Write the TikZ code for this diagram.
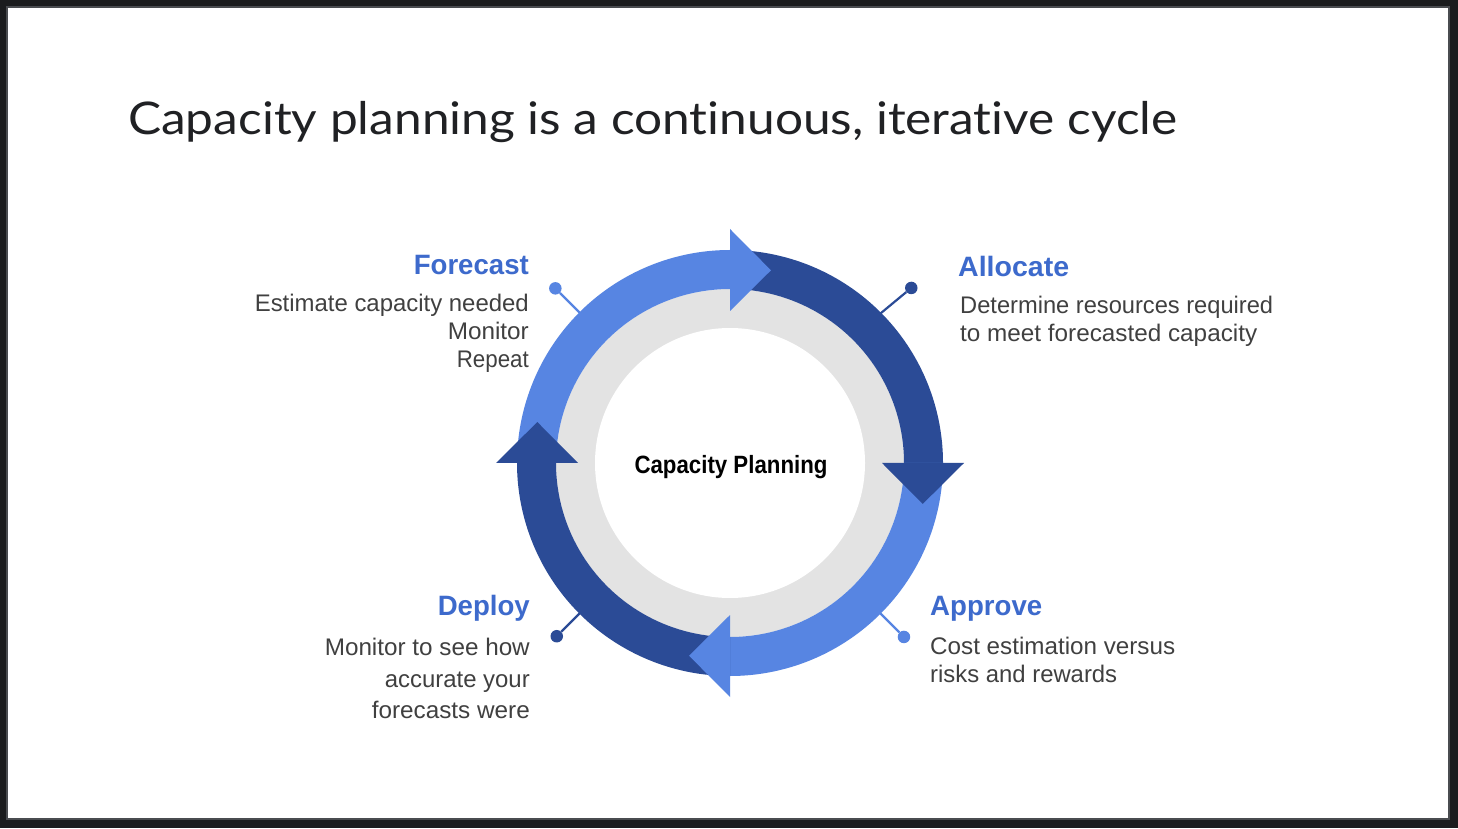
\documentclass[tikz,border=0pt]{standalone}
\usepackage{fontspec}
\setmainfont{Liberation Sans}
\newfontfamily\titlefont[Ligatures=NoCommon]{Lato}
\usepackage{graphicx}
\usetikzlibrary{calc}
\definecolor{lightb}{HTML}{5785E2}
\definecolor{darkb}{HTML}{2B4B96}
\definecolor{labb}{HTML}{3D6ACC}
\definecolor{bodyt}{HTML}{404040}
\definecolor{titlec}{HTML}{202124}
\definecolor{ringg}{HTML}{E3E3E3}
\definecolor{frameb}{HTML}{1B1C1E}
\definecolor{frameg}{HTML}{4A4C50}
\newcommand\fw[2]{\resizebox{#1pt}{\height}{#2}}
\newcommand\cycband[3]{\fill[#1] ($(C)+(#2:213pt)$) arc[start angle=#2,end angle=#3,radius=213pt] -- ($(C)+(#3:174pt)$) arc[start angle=#3,end angle=#2,radius=174pt] -- cycle;}
\newcommand\cychead[3]{\fill[#1] ($(C)+(#2:152pt)$) -- ($(C)+(#2:234pt)$) -- ($(C)+(#3:197pt)$) -- cycle;}
\begin{document}
\begin{tikzpicture}[x=1pt,y=1pt,
  lab/.style={font=\bfseries\fontsize{28}{34}\selectfont, text=labb, inner sep=0},
  body/.style={font=\fontsize{24}{29}\selectfont, text=bodyt, inner sep=0},
  dot/.style={circle, inner sep=0, minimum size=12.5pt},
  pinline/.style={line width=2.2pt}]
\useasboundingbox (0,0) rectangle (1458,828);
\fill[frameb] (0,0) rectangle (1458,828);
\fill[frameg] (6,8) rectangle (1450.3,822);
\fill[white] (8,10) rectangle (1448,820);

\node[anchor=base west, inner sep=0, text=titlec, font=\titlefont\fontsize{45}{54}\selectfont] (title) at (128,693) {\fw{1049}{Capacity planning is a continuous, iterative cycle}};

\coordinate (C) at (730,365);

% pins
\coordinate (fp) at ($(C)+(135:205pt)$);
\node[dot, fill=lightb] (fd) at ($(C)+(135:247pt)$) {};
\draw[pinline, lightb] (fp) -- (fd);
\coordinate (ap) at ($(C)+(45:205pt)$);
\node[dot, fill=darkb] (ad) at ($(C)+(44:252pt)$) {};
\draw[pinline, darkb] (ap) -- (ad);
\coordinate (pp) at ($(C)+(-45:205pt)$);
\node[dot, fill=lightb] (pd) at ($(C)+(-45:246pt)$) {};
\draw[pinline, lightb] (pp) -- (pd);
\coordinate (dp) at ($(C)+(225:205pt)$);
\node[dot, fill=darkb] (dd) at ($(C)+(225:245pt)$) {};
\draw[pinline, darkb] (dp) -- (dd);

% rings
\fill[ringg] (C) circle[radius=174pt];
\fill[white] (C) circle[radius=135pt];
\cycband{lightb}{89}{180}
\cycband{darkb}{-1}{90}
\cycband{lightb}{-91}{0}
\cycband{darkb}{179}{270}
\cychead{lightb}{90}{78}
\cychead{darkb}{0}{-12}
\cychead{lightb}{270}{258}
\cychead{darkb}{180}{168}

\node[anchor=base, inner sep=0, font=\bfseries\fontsize{25}{30}\selectfont, text=black] (center) at (731,354) {\fw{193}{Capacity Planning}};

% Forecast
\node[lab, anchor=base east] (fc) at (529,553) {\fw{115}{Forecast}};
\node[body, anchor=base east] (fc1) at (529,516) {\fw{274}{Estimate capacity needed}};
\node[body, anchor=base east] (fc2) at (529,488) {\fw{81}{Monitor}};
\node[body, anchor=base east] (fc3) at (529,460) {\fw{72}{Repeat}};

% Allocate
\node[lab, anchor=base west] (al) at (958,551) {\fw{111}{Allocate}};
\node[body, anchor=base west] (al1) at (960,514) {\fw{313}{Determine resources required}};
\node[body, anchor=base west] (al2) at (960,486) {\fw{297}{to meet forecasted capacity}};

% Deploy
\node[lab, anchor=base east] (dl) at (530,213) {\fw{92}{Deploy}};
\node[body, anchor=base east] (dl1) at (530,173) {\fw{205}{Monitor to see how}};
\node[body, anchor=base east] (dl2) at (530,141) {\fw{145}{accurate your}};
\node[body, anchor=base east] (dl3) at (530,110) {\fw{158}{forecasts were}};

% Approve
\node[lab, anchor=base west] (apl) at (930,213) {\fw{112}{Approve}};
\node[body, anchor=base west] (apl1) at (930,174) {\fw{245}{Cost estimation versus}};
\node[body, anchor=base west] (apl2) at (930,146) {\fw{187}{risks and rewards}};
\end{tikzpicture}
\end{document}
